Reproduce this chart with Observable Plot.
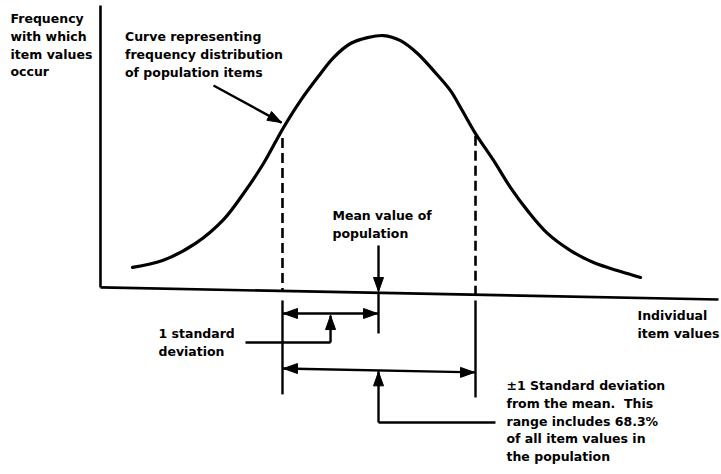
<!DOCTYPE html>
<html><head><meta charset="utf-8">
<script src="https://cdn.jsdelivr.net/npm/d3@7"></script>
<script src="https://cdn.jsdelivr.net/npm/@observablehq/plot@0.6"></script>
<style>html,body{margin:0;padding:0;background:#fff}</style>
</head><body><div id="chart"></div>
<script>
// Curve: x in standard deviations from the mean, y = frequency relative to the peak
const curveX = [-2.549,-2.238,-1.896,-1.606,-1.399,-1.192,-0.984,-0.808,-0.632,-0.466,-0.290,-0.114,0.052,0.228,0.404,0.570,0.746,0.850,1.005,1.192,1.368,1.544,1.751,1.990,2.228,2.508,2.715];
const curveY = [0.094,0.121,0.188,0.281,0.383,0.500,0.641,0.746,0.836,0.914,0.969,0.992,1.000,0.980,0.930,0.863,0.785,0.719,0.617,0.512,0.406,0.316,0.227,0.160,0.113,0.078,0.055];

// Axes of the diagram
const axisLines = [
  {x1:-2.881, y1:1.117, x2:-2.881, y2:0.016},
  {x1:-2.881, y1:0.016, x2:3.523, y2:-0.031}
];
// Dashed guides at -1 and +1 standard deviation
const dashedGuides = [
  {x1:-0.995, y1:0.600, x2:-0.995, y2:0.000},
  {x1:1.005, y1:0.609, x2:1.005, y2:-0.012}
];
// Solid annotation segments (ticks, range arrows, callouts, pointers)
const annotationLines = [
  {x1:-0.995, y1:-0.035, x2:-0.995, y2:-0.402},
  {x1:0, y1:-0.008, x2:0, y2:-0.164},
  {x1:1.005, y1:-0.035, x2:1.005, y2:-0.414},
  {x1:-0.995, y1:-0.086, x2:0, y2:-0.086},
  {x1:-0.497, y1:-0.199, x2:-0.497, y2:-0.094},
  {x1:-1.378, y1:-0.199, x2:-0.497, y2:-0.199},
  {x1:-0.995, y1:-0.301, x2:1.005, y2:-0.316},
  {x1:0, y1:-0.512, x2:0, y2:-0.312},
  {x1:0, y1:-0.512, x2:1.212, y2:-0.512},
  {x1:0, y1:0.180, x2:0, y2:0.004},
  {x1:-1.710, y1:0.805, x2:-1.005, y2:0.660}
];
// Arrowheads: tip position and pointing direction (degrees clockwise from up)
const arrowHeads = [
  {x:-0.985, y:-0.086, dir:-90},
  {x:-0.010, y:-0.086, dir:90},
  {x:-0.497, y:-0.094, dir:0},
  {x:-0.985, y:-0.301, dir:-90},
  {x:0.995, y:-0.316, dir:90},
  {x:0, y:-0.314, dir:0},
  {x:0, y:0.000, dir:180},
  {x:-1.005, y:0.660, dir:118.5}
];
// Text labels (x = left edge, y = top of first line)
const labelTexts = [
  "Frequency\nwith which\nitem values\noccur",
  "Curve representing\nfrequency distribution\nof population items",
  "Mean value of\npopulation",
  "1 standard\ndeviation",
  "Individual\nitem values",
  "\u00b11 Standard deviation\nfrom the mean.  This\nrange includes 68.3%\nof all item values in\nthe population"
];
const labelX = [-3.813, -2.627, -0.477, -2.280, 2.684, 1.326];
const labelY = [1.098, 1.027, 0.328, -0.133, -0.0625, -0.336];

const W = 721, H = 474;
const xDomain = [-3.917, 3.554], yDomain = [-0.715, 1.137];
const pxX = W / (xDomain[1] - xDomain[0]);
const pxY = H / (yDomain[1] - yDomain[0]);

const labels = labelTexts.map((t, i) => ({text: t, x: labelX[i], y: labelY[i]}));
const curve = curveX.map((x, i) => ({x, y: curveY[i]}));

// Filled triangular arrowheads, built around each tip in screen proportions
const headLen = 14, headHalf = 5;
const headPolys = arrowHeads.flatMap((h, id) => {
  const a = h.dir * Math.PI / 180;
  const ux = Math.sin(a), uy = -Math.cos(a);   // screen direction
  const px = Math.cos(a), py = Math.sin(a);    // screen perpendicular
  const pts = [
    [0, 0],
    [-ux * headLen + px * headHalf, -uy * headLen + py * headHalf],
    [-ux * headLen - px * headHalf, -uy * headLen - py * headHalf],
    [0, 0]
  ];
  return pts.map(([dx, dy]) => ({id, x: h.x + dx / pxX, y: h.y - dy / pxY}));
});

const chart = Plot.plot({
  width: W,
  height: H,
  margin: 0,
  x: {domain: xDomain, axis: null},
  y: {domain: yDomain, axis: null},
  style: {fontFamily: "'DejaVu Sans', sans-serif", background: "#fff"},
  marks: [
    Plot.link(axisLines, {x1:"x1", y1:"y1", x2:"x2", y2:"y2", stroke:"#000", strokeWidth:2.6}),
    Plot.link(dashedGuides, {x1:"x1", y1:"y1", x2:"x2", y2:"y2", stroke:"#000", strokeWidth:2.6, strokeDasharray:"10,5"}),
    Plot.link(annotationLines, {x1:"x1", y1:"y1", x2:"x2", y2:"y2", stroke:"#000", strokeWidth:2.4}),
    Plot.line(curve, {x:"x", y:"y", curve:"catmull-rom", stroke:"#000", strokeWidth:3.2}),
    Plot.line(headPolys, {x:"x", y:"y", z:"id", fill:"#000", stroke:"#000", strokeWidth:1, strokeLinejoin:"miter"}),
    Plot.text(labels, {x:"x", y:"y", text:"text", textAnchor:"start", lineAnchor:"top", lineHeight:1.42, fontSize:12.5, fontWeight:"bold", fill:"#000"})
  ]
});
document.getElementById("chart").appendChild(chart);
</script>
</body></html>
